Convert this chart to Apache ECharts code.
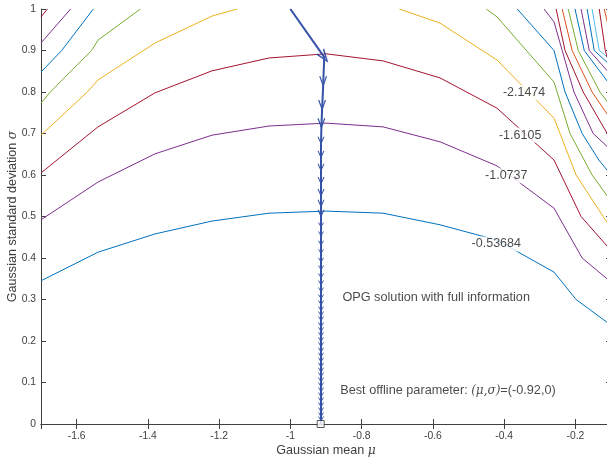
<!DOCTYPE html>
<html><head><meta charset="utf-8">
<script src="https://cdn.jsdelivr.net/npm/echarts@6/dist/echarts.min.js"></script>
<style>html,body{margin:0;padding:0;background:#fff}#c{width:607px;height:461px}</style>
</head><body><div id="c"></div>
<script>
// ---- Data ----
const xRange = [-1.7, -0.1];
const yRange = [0, 1];
const contourLevels = [-0.53684, -1.0737, -1.6105, -2.1474, -2.6842, -3.2211, -3.7579, -4.2947,
  -4.8316, -5.3684, -5.9053, -6.4421, -6.979, -7.5158, -8.0527, -8.5895];

// each contour: list of segments, each a list of [mu, sigma]
const c1 = [[[-1.7,0.345],[-1.54,0.414],[-1.38,0.458],[-1.22,0.489],[-1.06,0.508],[-0.9,0.513],[-0.74,0.508],[-0.58,0.480],[-0.42,0.443],[-0.26,0.366],[-0.198,0.3],[-0.1,0.238]]];
const c2 = [[[-1.7,0.492],[-1.54,0.583],[-1.38,0.651],[-1.22,0.696],[-1.06,0.718],[-0.9,0.725],[-0.74,0.716],[-0.58,0.680],[-0.42,0.622],[-0.26,0.520],[-0.181,0.4],[-0.1,0.342]]];
const c3 = [[[-1.7,0.605],[-1.54,0.716],[-1.38,0.798],[-1.22,0.851],[-1.06,0.882],[-0.9,0.892],[-0.74,0.875],[-0.58,0.834],[-0.42,0.761],[-0.26,0.636],[-0.184,0.5],[-0.1,0.418]]];
const c4 = [[[-1.7,0.696],[-1.570,0.8],[-1.54,0.829],[-1.38,0.918],[-1.22,0.983],[-1.149,1]],
            [[-0.694,1],[-0.58,0.966],[-0.42,0.877],[-0.26,0.737],[-0.243,0.7],[-0.198,0.6],[-0.122,0.5],[-0.1,0.472]]];
const c5 = [[[-1.7,0.773],[-1.674,0.8],[-1.558,0.9],[-1.54,0.925],[-1.421,1]],
            [[-0.450,1],[-0.42,0.981],[-0.26,0.824],[-0.215,0.7],[-0.153,0.6],[-0.1,0.537]]];
const c6 = [[[-1.7,0.848],[-1.642,0.9],[-1.553,1]],
            [[-0.363,1],[-0.26,0.9],[-0.229,0.8],[-0.181,0.7],[-0.134,0.636],[-0.1,0.6]]];
const c7 = [[[-1.7,0.918],[-1.617,1]],
            [[-0.288,1],[-0.26,0.969],[-0.237,0.9],[-0.204,0.8],[-0.150,0.7],[-0.1,0.66]]];
const c8 = [[[-1.7,0.981],[-1.682,1]],
            [[-0.254,1],[-0.229,0.9],[-0.178,0.8],[-0.1,0.684]]];
const c9  = [[[-0.237,1],[-0.209,0.9],[-0.153,0.8],[-0.1,0.733]]];
const c10 = [[[-0.220,1],[-0.192,0.9],[-0.131,0.8],[-0.1,0.765]]];
const c11 = [[[-0.201,1],[-0.175,0.9],[-0.1,0.814]]];
const c12 = [[[-0.184,1],[-0.161,0.9],[-0.1,0.841]]];
const c13 = [[[-0.167,1],[-0.147,0.9],[-0.1,0.863]]];
const c14 = [[[-0.153,1],[-0.133,0.9],[-0.1,0.877]]];
const c15 = [[[-0.133,1],[-0.116,0.9],[-0.1,0.85]]];
const c16 = [[[-0.119,1],[-0.1,0.93]]];
const contours = [c1,c2,c3,c4,c5,c6,c7,c8,c9,c10,c11,c12,c13,c14,c15,c16];

// inline contour labels
const labelText = ['-2.1474', '-1.6105', '-1.0737', '-0.53684'];
const labelMu = [-0.344, -0.355, -0.394, -0.422];
const labelSigma = [0.798, 0.696, 0.598, 0.434];

// OPG trajectory
const trajMu = [-1.0, -0.905, -0.908, -0.911, -0.913, -0.914, -0.914, -0.914, -0.914, -0.914, -0.914,
  -0.914, -0.914, -0.914, -0.914, -0.914, -0.914, -0.914, -0.914, -0.914, -0.914, -0.914, -0.914,
  -0.914, -0.914, -0.914, -0.914, -0.914, -0.914, -0.914, -0.914, -0.914, -0.914, -0.914, -0.914,
  -0.914, -0.914, -0.914, -0.914, -0.914, -0.914, -0.914, -0.914, -0.914, -0.914, -0.914, -0.915];
const trajSigma = [1.0, 0.884, 0.814, 0.757, 0.713, 0.675, 0.641, 0.610, 0.578, 0.549, 0.523,
  0.499, 0.475, 0.453, 0.431, 0.410, 0.390, 0.371, 0.352, 0.335, 0.318, 0.301, 0.287,
  0.272, 0.260, 0.248, 0.234, 0.222, 0.210, 0.198, 0.186, 0.173, 0.161, 0.149, 0.137,
  0.125, 0.113, 0.101, 0.089, 0.077, 0.065, 0.053, 0.041, 0.029, 0.017, 0.007, 0.0];

const bestParam = [-0.915, 0];
const noteText = ['OPG solution with full information', 'Best offline parameter: {i|(μ,σ)}=(-0.92,0)'];
const noteMu = [-0.854, -0.860];
const noteSigma = [0.306, 0.080];

// ---- Styles ----
const contourColors = ['#0072BD','#7E2F8E','#A2142F','#EDB120','#77AC30','#0072BD','#7E2F8E','#A2142F',
  '#D95319','#77AC30','#0072BD','#7E2F8E','#0072BD','#4DBEEE','#A2142F','#D95319'];
const axisColor = '#404040';
const trajColor = '#3352A8';
const chevron = 'path://M0,0 L5,10 L10,0 L8.4,0 L5,7.2 L1.6,0 Z';

const series = [];
contours.forEach((segs, k) => {
  segs.forEach(seg => {
    series.push({
      type: 'line', data: seg, symbol: 'none', silent: true, clip: true,
      lineStyle: { color: contourColors[k], width: 1 }, z: 2, animation: false
    });
  });
});

series.push({
  type: 'line', clip: false, z: 5, animation: false, silent: true,
  lineStyle: { color: trajColor, width: 2 },
  itemStyle: { color: trajColor },
  showAllSymbol: true,
  data: trajMu.map((m, i) => {
    const last = i === trajMu.length - 1;
    let size = i === 1 ? [10, 14] : (i < 5 ? [8, 11] : (i < 12 ? [7, 8] : [6, 5]));
    return {
      value: [m, trajSigma[i]],
      symbol: (i === 0 || last) ? 'none' : chevron,
      symbolSize: size,
      symbolRotate: i === 1 ? 36 : 0,
      symbolOffset: i === 1 ? [0, 0] : [0, '-40%']
    };
  })
});

series.push({
  type: 'scatter', z: 6, silent: true, animation: false,
  data: [bestParam], symbol: 'rect', symbolSize: 7,
  itemStyle: { color: '#fff', borderColor: '#333', borderWidth: 1 }
});

series.push({
  type: 'scatter', z: 8, silent: true, animation: false, symbolSize: 0,
  data: labelText.map((t, i) => [labelMu[i], labelSigma[i], t]),
  label: {
    show: true, position: 'inside', formatter: p => p.data[2],
    fontFamily: 'Liberation Sans', fontSize: 12.5, color: '#1a1a1a',
    backgroundColor: '#fff', padding: [1, 1]
  }
});

series.push({
  type: 'scatter', z: 8, silent: true, animation: false, symbolSize: 0,
  data: noteText.map((t, i) => [noteMu[i], noteSigma[i], t]),
  label: {
    show: true, position: 'right', distance: 0, formatter: p => p.data[2],
    fontFamily: 'Liberation Sans', fontSize: 12.7, color: '#1a1a1a',
    rich: { i: { fontFamily: 'DejaVu Serif', fontStyle: 'italic', fontSize: 12, color: '#1a1a1a' } }
  }
});

const xBase = {
  type: 'value', min: xRange[0], max: xRange[1], splitNumber: 8,
  splitLine: { show: false },
  axisLine: { show: true, lineStyle: { color: axisColor, width: 1 } },
  axisTick: { show: true, inside: true, length: 5, lineStyle: { color: axisColor } }
};
const yBase = {
  type: 'value', min: yRange[0], max: yRange[1], interval: 0.1,
  splitLine: { show: false },
  axisLine: { show: true, lineStyle: { color: axisColor, width: 1 } },
  axisTick: { show: true, inside: true, length: 5, lineStyle: { color: axisColor } }
};

const chart = echarts.init(document.getElementById('c'), null, { renderer: 'canvas' });
chart.setOption({
  animation: false,
  backgroundColor: '#fff',
  grid: { left: 41, right: -4, top: 9, bottom: 37, containLabel: false, outerBoundsMode: 'none' },
  xAxis: [
    Object.assign({}, xBase, {
      position: 'bottom',
      axisLabel: { showMinLabel: false, showMaxLabel: false, color: axisColor, fontSize: 10.3,
        fontFamily: 'Liberation Sans', margin: 7 },
      name: 'Gaussian mean {i|μ}', nameLocation: 'middle', nameGap: 20, nameMoveOverlap: false,
      nameTextStyle: { color: axisColor, fontSize: 12.6, fontFamily: 'Liberation Sans',
        rich: { i: { fontFamily: 'DejaVu Serif', fontStyle: 'italic', fontSize: 12.3, color: axisColor } } }
    }),
    Object.assign({}, xBase, { position: 'top', axisLabel: { show: false } })
  ],
  yAxis: [
    Object.assign({}, yBase, {
      position: 'left',
      axisLabel: { color: axisColor, fontSize: 10.3, fontFamily: 'Liberation Sans', margin: 5 },
      name: 'Gaussian standard deviation {i|σ}', nameLocation: 'middle', nameGap: 22, nameRotate: 90,
      nameMoveOverlap: false,
      nameTextStyle: { color: axisColor, fontSize: 12.6, fontFamily: 'Liberation Sans',
        rich: { i: { fontFamily: 'DejaVu Serif', fontStyle: 'italic', fontSize: 12.3, color: axisColor } } }
    }),
    Object.assign({}, yBase, { position: 'right', axisLabel: { show: false } })
  ],
  series: series
});
</script></body></html>
